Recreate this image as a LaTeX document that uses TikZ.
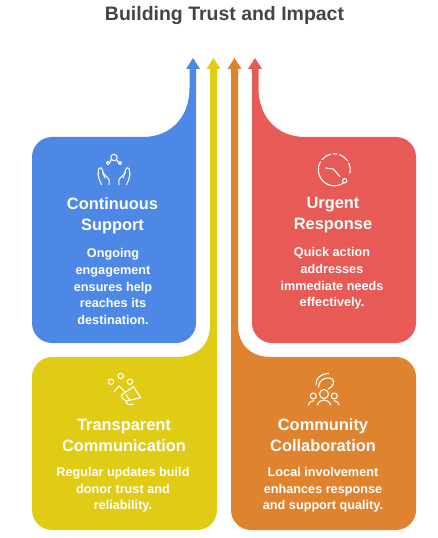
\documentclass[tikz,border=0pt]{standalone}
\usepackage{fontspec}
\setmainfont{Liberation Sans}
\definecolor{cardblue}{HTML}{4E88E7}
\definecolor{cardyellow}{HTML}{E0CB15}
\definecolor{cardorange}{HTML}{DF832F}
\definecolor{cardred}{HTML}{E85A55}
\definecolor{titlegray}{HTML}{444444}
\tikzset{
    headtext/.style={text=white, align=center, font=\bfseries\fontsize{12.3}{15.75}\selectfont},
    bodytext/.style={text=white, align=center, font=\bfseries\fontsize{9.5}{12.4}\selectfont},
    iconline/.style={draw=white, line width=0.8pt, line cap=round, line join=round}
}

\begin{document}
\begin{tikzpicture}[x=0.75pt, y=-0.75pt]
        \useasboundingbox (0,0) rectangle (437,538);

        \node[text=titlegray, font=\bfseries\fontsize{14.6}{17}\selectfont] (title) at (224.5,16) {Building Trust and Impact};

        \fill[cardblue] (32,157) .. controls (32,146) and (41,137) .. (52,137) -- (143,137)
            .. controls (170,137) and (189.5,118) .. (189.5,88) -- (189.5,69) -- (186,69) -- (193,58) -- (200,69) -- (196,69)
            -- (196,323) .. controls (196,334) and (187,343) .. (176,343) -- (52,343)
            .. controls (41,343) and (32,334) .. (32,323) -- cycle;
        \fill[cardred] (416,157) .. controls (416,146) and (407,137) .. (396,137) -- (305,137)
            .. controls (278,137) and (258.5,118) .. (258.5,88) -- (258.5,69) -- (262,69) -- (255,58) -- (248,69) -- (252,69)
            -- (252,323) .. controls (252,334) and (261,343) .. (272,343) -- (396,343)
            .. controls (407,343) and (416,334) .. (416,323) -- cycle;
        \fill[cardyellow] (32,377) .. controls (32,366) and (41,357) .. (52,357) -- (177,357)
            .. controls (197,357) and (210,345) .. (210,325) -- (210,69) -- (206.5,69) -- (213.5,58) -- (220.5,69) -- (217,69)
            -- (217,510) .. controls (217,521) and (208,530) .. (197,530) -- (52,530)
            .. controls (41,530) and (32,521) .. (32,510) -- cycle;
        \fill[cardorange] (416,377) .. controls (416,366) and (407,357) .. (396,357) -- (271,357)
            .. controls (251,357) and (238,345) .. (238,325) -- (238,69) -- (241.5,69) -- (234.5,58) -- (227.5,69) -- (231,69)
            -- (231,510) .. controls (231,521) and (240,530) .. (251,530) -- (396,530)
            .. controls (407,530) and (416,521) .. (416,510) -- cycle;

        \node[headtext] (supporthead) at (112.5,215.5) {Continuous\\Support};
        \node[bodytext] (supportbody) at (113,286.5) {Ongoing\\engagement\\ensures help\\reaches its\\destination.};
        \node[headtext] (urgenthead) at (333,215.5) {Urgent\\Response};
        \node[bodytext] (urgentbody) at (332,278.5) {Quick action\\addresses\\immediate needs\\effectively.};
        \node[headtext] (transparenthead) at (124,435.5) {Transparent\\Communication};
        \node[bodytext] (transparentbody) at (123,490) {Regular updates build\\donor trust and\\reliability.};
        \node[headtext] (communityhead) at (323,435.5) {Community\\Collaboration};
        \node[bodytext] (communitybody) at (323,490) {Local involvement\\enhances response\\and support quality.};

        % hands
        \draw[iconline] (114,157.5) circle (3.2);
        \draw[iconline] (108,163) circle (1.7) (120,163) circle (1.7);
        \draw[iconline] (109.5,163) -- (111.4,159.5) (118.5,163) -- (116.6,159.5);
        \draw[iconline] (101.5,184.5) .. controls (97,176) and (98,172) .. (99,168.5) .. controls (100,167) and (102,167.5) .. (102.5,170) .. controls (103,174) and (105,175.5) .. (107,177) .. controls (109,178.5) and (109.5,180) .. (109,184.5);
        \draw[iconline] (102.5,172) -- (105,178);
        \draw[iconline] (126.5,184.5) .. controls (131,176) and (130,172) .. (129,168.5) .. controls (128,167) and (126,167.5) .. (125.5,170) .. controls (125,174) and (123,175.5) .. (121,177) .. controls (119,178.5) and (118.5,180) .. (119,184.5);
        \draw[iconline] (125.5,172) -- (123,178);

        % clock
        \begin{scope}[shift={(334.3,169.8)}]
            \draw[iconline] (55:16) arc[start angle=55, end angle=210, radius=16];
            \draw[iconline] (219:16) arc[start angle=219, end angle=258, radius=16];
            \draw[iconline] (266:16) arc[start angle=266, end angle=280, radius=16];
            \draw[iconline] (289:16) arc[start angle=289, end angle=325, radius=16];
            \draw[iconline] (334:16) arc[start angle=334, end angle=372, radius=16];
        \end{scope}
        \draw[iconline] (325.7,168) -- (333.3,169) -- (340,176.7);
        \draw[iconline] (344.7,180.7) circle (2.2);

        % megaphone
        \foreach \cx/\cy in {111/381.7, 120.7/376, 130/381.7}
            \draw[iconline] (\cx,\cy) circle (2.7);
        \draw[iconline] (114,391.7) -- (119,386) -- (125,391.7);
        \draw[iconline] (133.3,386.7) -- (140.7,397.7) -- (126,401) -- (122,398) -- (121.7,395) -- cycle;
        \draw[iconline] (126,394.5) -- (130,400.5);
        \draw[iconline] (126,401) .. controls (126,404.5) and (130,405.5) .. (133,404);

        % people
        \draw[iconline] (324,394) circle (4.5);
        \draw[iconline] (313.3,396) circle (3) (334.3,396) circle (3);
        \draw[iconline] (317.3,405) .. controls (318.5,401.5) and (321,400) .. (324,400) .. controls (327,400) and (329.5,401.5) .. (330.7,405);
        \draw[iconline] (308.3,405) .. controls (309,402) and (311,400.7) .. (314,400.7);
        \draw[iconline] (339,405) .. controls (338.5,402) and (336.5,400.7) .. (334,400.7);
        \draw[iconline] (316,385) .. controls (316,379) and (319,374) .. (328.5,373.5);
        \draw[iconline] (318.5,387) .. controls (319,381) and (323,378) .. (328,378) .. controls (332,378) and (334,380) .. (333.5,383) .. controls (333,386) and (331,388) .. (328,389);
\end{tikzpicture}
\end{document}
